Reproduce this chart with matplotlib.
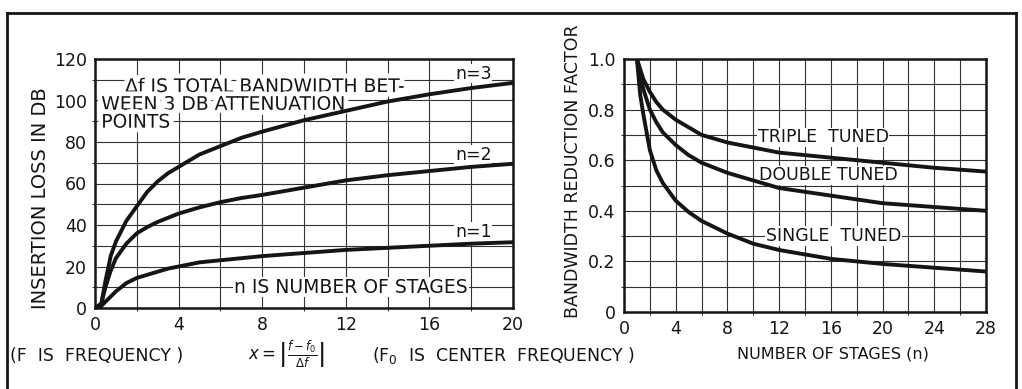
import matplotlib

matplotlib.use("Agg")
import matplotlib.pyplot as plt
import matplotlib.patheffects as pe
from matplotlib.lines import Line2D

plt.rcParams["font.family"] = ["DejaVu Sans"]
INK = "#151515"

# insertion loss vs normalised detuning x
x_loss = [0, 0.3, 0.5, 0.75, 1, 1.5, 2, 2.5, 3, 3.5, 4, 5, 6, 7, 8, 10, 12, 14, 16, 18, 20]
loss_n3 = [0, 2, 13, 25, 32, 42, 49, 56, 61, 65, 68, 74, 78, 82, 85, 90.5, 95, 99.5, 103, 106, 108.5]
loss_n2 = [0, 2, 10, 18, 24, 31, 36, 39, 41.5, 43.5, 45.5, 48.5, 51, 53, 54.5, 58, 61.5, 64, 66, 68, 69.5]
loss_n1 = [0, 1, 3, 5.5, 8, 12, 14.5, 16, 17.5, 19, 20, 22, 23, 24, 25, 26.5, 28, 29, 30, 31, 31.7]

# bandwidth reduction factor vs number of stages
stages = [1, 1.25, 1.5, 2, 2.5, 3, 4, 5, 6, 8, 10, 12, 16, 20, 24, 28]
bw_single = [1.0, 0.86, 0.78, 0.64, 0.56, 0.51, 0.44, 0.395, 0.36, 0.31, 0.27, 0.245, 0.21, 0.19, 0.175, 0.16]
bw_double = [1.0, 0.93, 0.88, 0.80, 0.75, 0.71, 0.66, 0.62, 0.59, 0.55, 0.52, 0.49, 0.46, 0.43, 0.415, 0.40]
bw_triple = [1.0, 0.96, 0.92, 0.87, 0.83, 0.80, 0.76, 0.73, 0.70, 0.67, 0.65, 0.63, 0.61, 0.59, 0.57, 0.555]

fig = plt.figure(figsize=(10.22, 3.89), dpi=100)
fig.patch.set_facecolor("white")

# frame around the whole figure (open at the bottom)
W, H = 1022, 389
for xs, ys in [((7, 1016), (13, 13)), ((7, 7), (13, 389)), ((1016, 1016), (13, 389))]:
    fig.add_artist(Line2D([x / W for x in xs], [1 - y / H for y in ys],
                          transform=fig.transFigure, color=INK, lw=2))

box = dict(facecolor="white", edgecolor="none", pad=0.5)
halo = [pe.withStroke(linewidth=7, foreground="white")]


def style(ax):
    for s in ax.spines.values():
        s.set_linewidth(1.8)
        s.set_color(INK)
    ax.grid(True, which="both", color="#333333", lw=0.8)
    ax.set_axisbelow(True)
    ax.tick_params(length=0, labelsize=12.5, colors=INK, pad=6)


def note(ax, x, y, s, size=12.5, va="center", **kw):
    # labels blank out the grid but sit under the curves
    ax.text(x, y, s, fontsize=size, color=INK, va=va, zorder=1.5, **kw)


# left panel
ax1 = fig.add_axes([95 / W, 1 - 308 / H, 418 / W, 249 / H])
for y in (loss_n1, loss_n2, loss_n3):
    ax1.plot(x_loss, y, color=INK, lw=2.8, solid_capstyle="round", zorder=3)
ax1.set_xlim(0, 20)
ax1.set_ylim(0, 120)
ax1.set_xticks(range(0, 21, 4))
ax1.set_xticks(range(0, 21, 2), minor=True)
ax1.set_yticks(range(0, 121, 20))
ax1.set_yticks(range(0, 121, 10), minor=True)
style(ax1)
ax1.set_ylabel("INSERTION LOSS IN DB", fontsize=14, color=INK)
ax1.yaxis.set_label_coords(-0.108, 0.44)

note(ax1, 0.3, 111.3,
     "    Δf IS TOTAL BANDWIDTH BET-\nWEEN 3 DB ATTENUATION\nPOINTS",
     size=13.5, va="top", linespacing=0.92, path_effects=halo)
note(ax1, 18.1, 113, "n=3", ha="center", bbox=box)
note(ax1, 18.1, 73.7, "n=2", ha="center", bbox=box)
note(ax1, 18.1, 36.6, "n=1", ha="center", bbox=box)
note(ax1, 12.25, 10.1, "n IS NUMBER OF STAGES", size=13.5, ha="center", bbox=box)

# right panel
ax2 = fig.add_axes([624 / W, 1 - 312 / H, 362 / W, 253 / H])
for y in (bw_single, bw_double, bw_triple):
    ax2.plot(stages, y, color=INK, lw=2.8, solid_capstyle="round", zorder=3)
ax2.set_xlim(0, 28)
ax2.set_ylim(0, 1.0)
ax2.set_xticks(range(0, 29, 4))
ax2.set_xticks(range(0, 29, 2), minor=True)
ax2.set_yticks([0, 0.2, 0.4, 0.6, 0.8, 1.0])
ax2.set_yticklabels(["0", "0.2", "0.4", "0.6", "0.8", "1.0"])
ax2.set_yticks([i / 10 for i in range(11)], minor=True)
style(ax2)
ax2.set_ylabel("BANDWIDTH REDUCTION FACTOR", fontsize=12.5, color=INK)
ax2.yaxis.set_label_coords(-0.116, 0.557)
ax2.set_xlabel("NUMBER OF STAGES (n)", fontsize=11.5, color=INK)
ax2.xaxis.set_label_coords(0.577, -0.135)

note(ax2, 15.4, 0.69, "TRIPLE  TUNED", ha="center", bbox=box)
note(ax2, 15.8, 0.54, "DOUBLE TUNED", ha="center", bbox=box)
note(ax2, 16.2, 0.30, "SINGLE  TUNED", ha="center", bbox=box)

# notes under the left panel
fig.text(10 / W, 1 - 356 / H, "(F  IS  FREQUENCY )", fontsize=12.5, color=INK,
         va="center")
fig.text(248 / W, 1 - 354 / H, r"$x=\left|\frac{f-f_0}{\Delta f}\right|$",
         fontsize=12, color=INK, va="center")
fig.text(372 / W, 1 - 356 / H, "(F$_0$  IS  CENTER  FREQUENCY )", fontsize=12.5,
         color=INK, va="center")

fig.savefig("out.png", dpi=100, facecolor="white")
